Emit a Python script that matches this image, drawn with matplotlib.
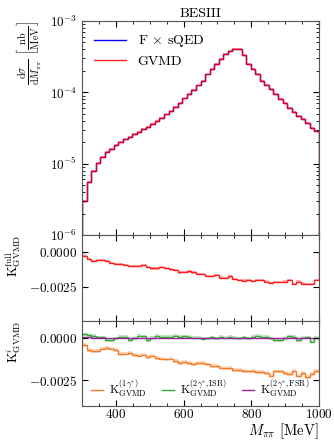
import numpy as np
import matplotlib
matplotlib.use("Agg")
import matplotlib.pyplot as plt
from matplotlib.ticker import MultipleLocator, FixedLocator, FuncFormatter, LogLocator, NullFormatter

plt.rcParams['font.family'] = 'serif'
plt.rcParams['font.serif'] = ['cmr10']
plt.rcParams['mathtext.fontset'] = 'cm'
plt.rcParams['axes.formatter.use_mathtext'] = True
plt.rcParams['axes.unicode_minus'] = True

# bins in M_pipi [MeV]
m_lo, m_hi, n_bins = 300, 1000, 52

# cross sections [nb/MeV]
xs_gvmd = [3.0e-6, 5.5e-6, 7.8e-6, 1.02e-5, 1.23e-5, 1.44e-5, 1.62e-5, 1.83e-5, 2.0e-5, 2.19e-5,
           2.4e-5, 2.58e-5, 2.78e-5, 3.07e-5, 3.3e-5, 3.63e-5, 3.96e-5, 4.4e-5, 4.9e-5, 5.5e-5,
           6.2e-5, 7.0e-5, 8.2e-5, 9.4e-5, 1.08e-4, 1.25e-4, 1.46e-4, 1.78e-4, 2.1e-4, 2.5e-4,
           2.93e-4, 3.41e-4, 3.83e-4, 4.05e-4, 4.1e-4, 3.34e-4, 2.5e-4, 2.1e-4, 1.8e-4, 1.46e-4,
           1.27e-4, 1.10e-4, 9.5e-5, 8.1e-5, 7.0e-5, 6.1e-5, 5.35e-5, 4.7e-5, 4.2e-5, 3.7e-5,
           3.2e-5, 2.9e-5]
k_full = [-0.00024, -0.00049, -0.00061, -0.00059, -0.00054, -0.00066, -0.00081, -0.00085, -0.00083, -0.00093,
          -0.00098, -0.00098, -0.00103, -0.00091, -0.00108, -0.00118, -0.00118, -0.00110, -0.00113, -0.00125,
          -0.00132, -0.00147, -0.00142, -0.00140, -0.00147, -0.00159, -0.00157, -0.00171, -0.00171, -0.00166,
          -0.00184, -0.00190, -0.00176, -0.00196, -0.00201, -0.00206, -0.00201, -0.00208, -0.00201, -0.00203,
          -0.00213, -0.00223, -0.00218, -0.00218, -0.00213, -0.00203, -0.00233, -0.00213, -0.00228, -0.00233,
          -0.00233, -0.00201]
k_1g = [-0.00040, -0.00069, -0.00079, -0.00079, -0.00063, -0.00060, -0.00063, -0.00073, -0.00094, -0.00092,
        -0.00089, -0.00098, -0.00104, -0.00098, -0.00112, -0.00104, -0.00117, -0.00122, -0.00127, -0.00122,
        -0.00136, -0.00146, -0.00141, -0.00146, -0.00152, -0.00146, -0.00146, -0.00156, -0.00165, -0.00165,
        -0.00175, -0.00180, -0.00178, -0.00188, -0.00190, -0.00194, -0.00198, -0.00194, -0.00203, -0.00203,
        -0.00208, -0.00222, -0.00198, -0.00198, -0.00209, -0.00213, -0.00194, -0.00222, -0.00209, -0.00232,
        -0.00213, -0.00194]
k_2g_isr = [0.00021, 0.00017, 0.00013, 0.00004, 0.00004, -0.00013, -0.00013, -0.00002, 0.00006, 0.00006,
            -0.00015, -0.00002, 0.00013, 0.00011, -0.00013, 0.00002, 0.00013, 0.00006, 0.00006, 0.00006,
            0.00012, 0.00008, 0.00010, 0.00006, 0.00002, 0.00000, -0.00006, -0.00002, 0.00004, -0.00002,
            0.00008, 0.00002, 0.00008, 0.00002, -0.00002, 0.00004, -0.00002, 0.00008, 0.00012, 0.00008,
            0.00008, -0.00002, -0.00012, -0.00012, -0.00002, 0.00010, 0.00008, -0.00012, 0.00002, 0.00004,
            -0.00021, 0.00002]
k_2g_fsr = [0.00003, 0.00003, 0.00002, 0.00002, 0.00002, 0.00001, 0.00001, 0.00001, 0.00001, 0.00001,
            0.00001, 0.00001, 0.00001, 0.00001, 0.00001, 0.00001, 0.00001, 0.00001, 0.00001, 0.00001,
            0.00001, 0.00001, 0.00001, 0.00001, 0.00001, 0.00001, 0.00001, 0.00001, 0.00001, 0.00001,
            0.00001, 0.00001, 0.00001, 0.00001, 0.00001, 0.00001, 0.00001, 0.00001, 0.00001, 0.00001,
            0.00001, 0.00001, 0.00001, 0.00001, 0.00001, 0.00001, 0.00001, 0.00001, 0.00001, 0.00001,
            0.00001, 0.00001]
# half widths of the MC uncertainty bands
err_xs_rel = 0.03
err_k_full = 0.00008
err_k_1g = 0.00011
err_k_isr = 0.00009

edges = np.linspace(m_lo, m_hi, n_bins + 1)
xs_gvmd = np.array(xs_gvmd)
k_full = np.array(k_full)
k_1g = np.array(k_1g)
k_2g_isr = np.array(k_2g_isr)
k_2g_fsr = np.array(k_2g_fsr)
xs_fsqed = xs_gvmd * (1 - k_full)

fig = plt.figure(figsize=(3.34, 4.41), dpi=100)
L, W = 0.2455, 0.7096
ax1 = fig.add_axes([L, 0.4671, W, 0.4853])
ax2 = fig.add_axes([L, 0.2721, W, 0.1950], sharex=ax1)
ax3 = fig.add_axes([L, 0.0800, W, 0.1921], sharex=ax1)

# main panel
ax1.stairs(xs_fsqed, edges, color='blue', lw=1.0, label=r'F $\times$ sQED')
ax1.stairs(xs_gvmd * (1 + err_xs_rel), edges, baseline=xs_gvmd * (1 - err_xs_rel),
           fill=True, color='red', alpha=0.3, lw=0)
ax1.stairs(xs_gvmd, edges, color='red', lw=1.0, alpha=0.85, label='GVMD')
ax1.set_yscale('log')
ax1.set_ylim(1e-6, 1e-3)
ax1.yaxis.set_minor_locator(LogLocator(base=10, subs=np.arange(2, 10)))
ax1.yaxis.set_minor_formatter(NullFormatter())
ax1.set_ylabel(r'$\frac{\mathrm{d}\sigma}{\mathrm{d}M_{\pi\pi}}\ \left[\frac{\mathrm{nb}}{\mathrm{MeV}}\right]$',
               fontsize=10.5, loc='top')
ax1.set_title('BESIII', fontsize=10, pad=3)
ax1.legend(loc='upper left', frameon=False, fontsize=10, handlelength=2.3,
           borderaxespad=0.5, labelspacing=0.4)
plt.setp(ax1.get_xticklabels(), visible=False)

# K full
ax2.stairs(k_full + err_k_full, edges, baseline=k_full - err_k_full, fill=True,
           color='red', alpha=0.3, lw=0)
ax2.stairs(k_full, edges, color='red', lw=1.0, alpha=0.85)
ax2.set_ylim(-0.005, 0.00125)
ax2.yaxis.set_major_locator(FixedLocator([0.0, -0.0025]))
ax2.set_ylabel(r'$\mathrm{K}^{\mathrm{full}}_{\mathrm{GVMD}}$', fontsize=9.5, loc='top')
plt.setp(ax2.get_xticklabels(), visible=False)

# K contributions
for vals, err, col, lab in [(k_1g, err_k_1g, '#f47c28', r'$\mathrm{K}^{(1\gamma^{*})}_{\mathrm{GVMD}}$'),
                            (k_2g_isr, err_k_isr, '#35a835', r'$\mathrm{K}^{(2\gamma^{*},\mathrm{ISR})}_{\mathrm{GVMD}}$'),
                            (k_2g_fsr, 0.00001, '#9a1f9a', r'$\mathrm{K}^{(2\gamma^{*},\mathrm{FSR})}_{\mathrm{GVMD}}$')]:
    ax3.stairs(vals + err, edges, baseline=vals - err, fill=True, color=col, alpha=0.3, lw=0)
    ax3.stairs(vals, edges, color=col, lw=1.0, label=lab)
ax3.set_ylim(-0.004, 0.001)
ax3.yaxis.set_major_locator(FixedLocator([0.0, -0.0025]))
ax3.set_ylabel(r'$\mathrm{K}^{i}_{\mathrm{GVMD}}$', fontsize=9.5, loc='top')
ax3.legend(loc='lower center', ncol=3, frameon=False, fontsize=8.5, handlelength=1.0,
           columnspacing=1.3, handletextpad=0.5, borderaxespad=0.1)
ax3.set_xlabel(r'$M_{\pi\pi}$ [MeV]', fontsize=10.5, loc='right', labelpad=0)

fmt = FuncFormatter(lambda v, p: r'$%.4f$' % v if abs(v) > 1e-12 else r'$0.0000$')
for ax in (ax2, ax3):
    ax.yaxis.set_major_formatter(fmt)

ax1.set_xlim(m_lo, m_hi)
ax3.xaxis.set_major_locator(MultipleLocator(200))
ax3.xaxis.set_minor_locator(MultipleLocator(50))
for ax in (ax1, ax2, ax3):
    ax.tick_params(which='both', direction='in', top=True, right=True, labelsize=9.5)
    ax.tick_params(which='major', length=4)
    ax.tick_params(which='minor', length=2)
    for s in ax.spines.values():
        s.set_color('#555555')
ax3.tick_params(axis='x', pad=2)

fig.align_ylabels([ax1, ax2, ax3])
fig.savefig('out.png', dpi=100)
